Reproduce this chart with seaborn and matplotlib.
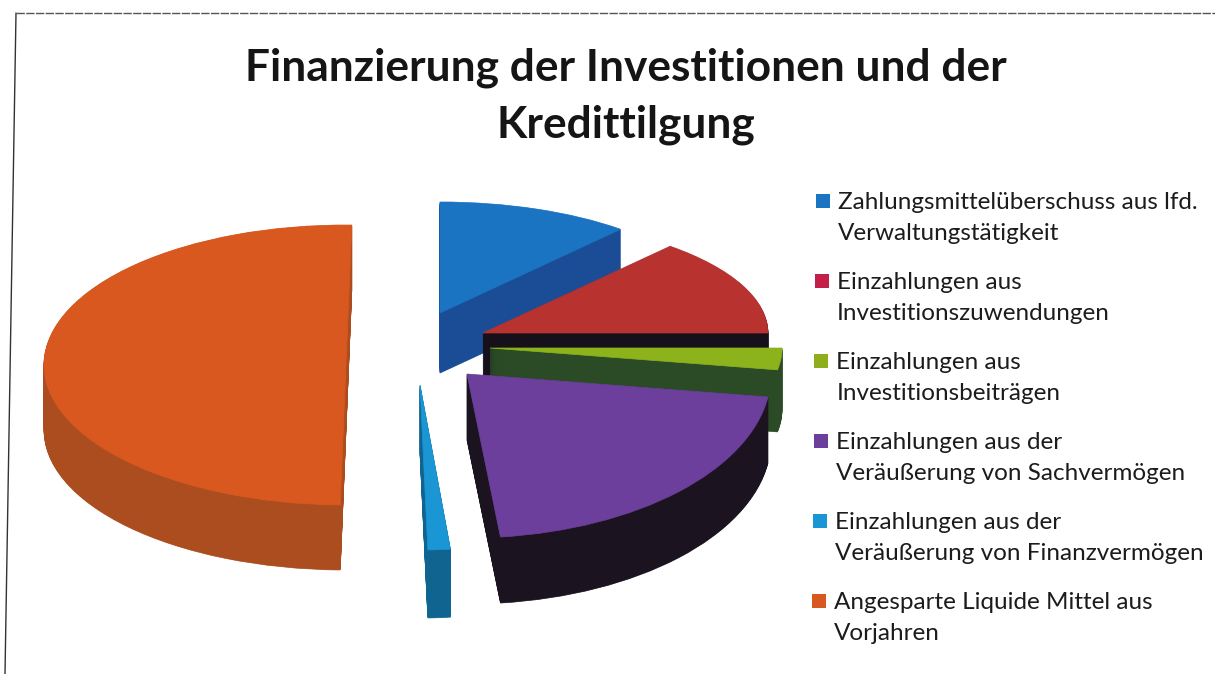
import seaborn as sns
from matplotlib import pyplot as plt
from matplotlib.transforms import Affine2D

# shares of the financing in percent
labels = ['Zahlungsmittelüberschuss aus lfd.\nVerwaltungstätigkeit',
          'Einzahlungen aus\nInvestitionszuwendungen',
          'Einzahlungen aus\nInvestitionsbeiträgen',
          'Einzahlungen aus der\nVeräußerung von Sachvermögen',
          'Einzahlungen aus der\nVeräußerung von Finanzvermögen',
          'Angesparte Liquide Mittel aus\nVorjahren']
shares = [11.4, 13.6, 2.8, 21.0, 1.2, 50.0]
title = 'Finanzierung der Investitionen und der\nKredittilgung'

top_colours = ['#1a74c2', '#b8322f', '#8db31c', '#6c3f9c', '#1a96d4', '#d9581f']
side_colours = ['#1b4c96', '#15101a', '#2b4a26', '#1b1420', '#106490', '#ab4d1f']
legend_colours = ['#1a74c2', '#c41f48', '#8fae1b', '#6c3f9c', '#1a96d4', '#d9581f']

# exploded, perspective-distorted slices: pixel centre, radii, depth, small rotation
centre_x = [440, 483, 490, 467, 420, 346]
centre_y = [313, 333, 348, 374, 385, 365]
radius_x = [275, 285, 292, 304, 300, 302]
radius_y = [111, 115, 125, 164, 165, 140]
depth = [60, 60, 62, 66, 68, 65]
rotation = [0, 0, 0, -2, -1.5, 1.1]
draw_order = [0, 5, 1, 2, 4, 3]

W, H = 1215, 674

sns.set_theme(style='white')
plt.rcParams['font.family'] = ['Lato', 'DejaVu Sans']

fig, ax = plt.subplots(figsize=(W / 100, H / 100), dpi=100)
fig.subplots_adjust(0, 0, 1, 1)


def draw_layer(i, colour, drop):
    # full pie from the shares, only slice i is kept
    wedges, _ = ax.pie(shares, startangle=90 - rotation[i], counterclock=False)
    for j, w in enumerate(wedges):
        if j != i:
            w.remove()
    w = wedges[i]
    w.set_facecolor(colour)
    w.set_edgecolor(colour)
    w.set_linewidth(0.5)
    w.set_transform(Affine2D().scale(radius_x[i], radius_y[i])
                    .translate(centre_x[i], H - centre_y[i] - drop) + ax.transData)


for i in draw_order:
    d = depth[i]
    while d > 0:
        draw_layer(i, side_colours[i], d)
        d -= 0.75
    draw_layer(i, top_colours[i], 0)

ax.set_aspect('auto')
ax.set_xlim(0, W)
ax.set_ylim(0, H)
ax.axis('off')

ax.text(626, H - 96, title, ha='center', va='center', fontsize=31.9, fontweight='bold',
        color='#151515', linespacing=1.5)

# legend by hand, the entries sit next to their first line
for i, (lab, col) in enumerate(zip(labels, legend_colours)):
    y = H - 201 - 80 * i
    x = 838 - 0.8 * i
    ax.scatter([x - 15], [y], marker='s', s=100, color=col, linewidths=0)
    ax.text(x, y + 9, lab, ha='left', va='top', fontsize=17.5, color='#1c1c1c', linespacing=1.57)

# edge of the scanned page
ax.plot([16, 5], [H - 13, 0], color='#333333', lw=1)
ax.plot([16, W], [H - 13, H - 13], color='#555555', lw=1, ls=(0, (6, 1)))

fig.savefig('out.png', dpi=100)
